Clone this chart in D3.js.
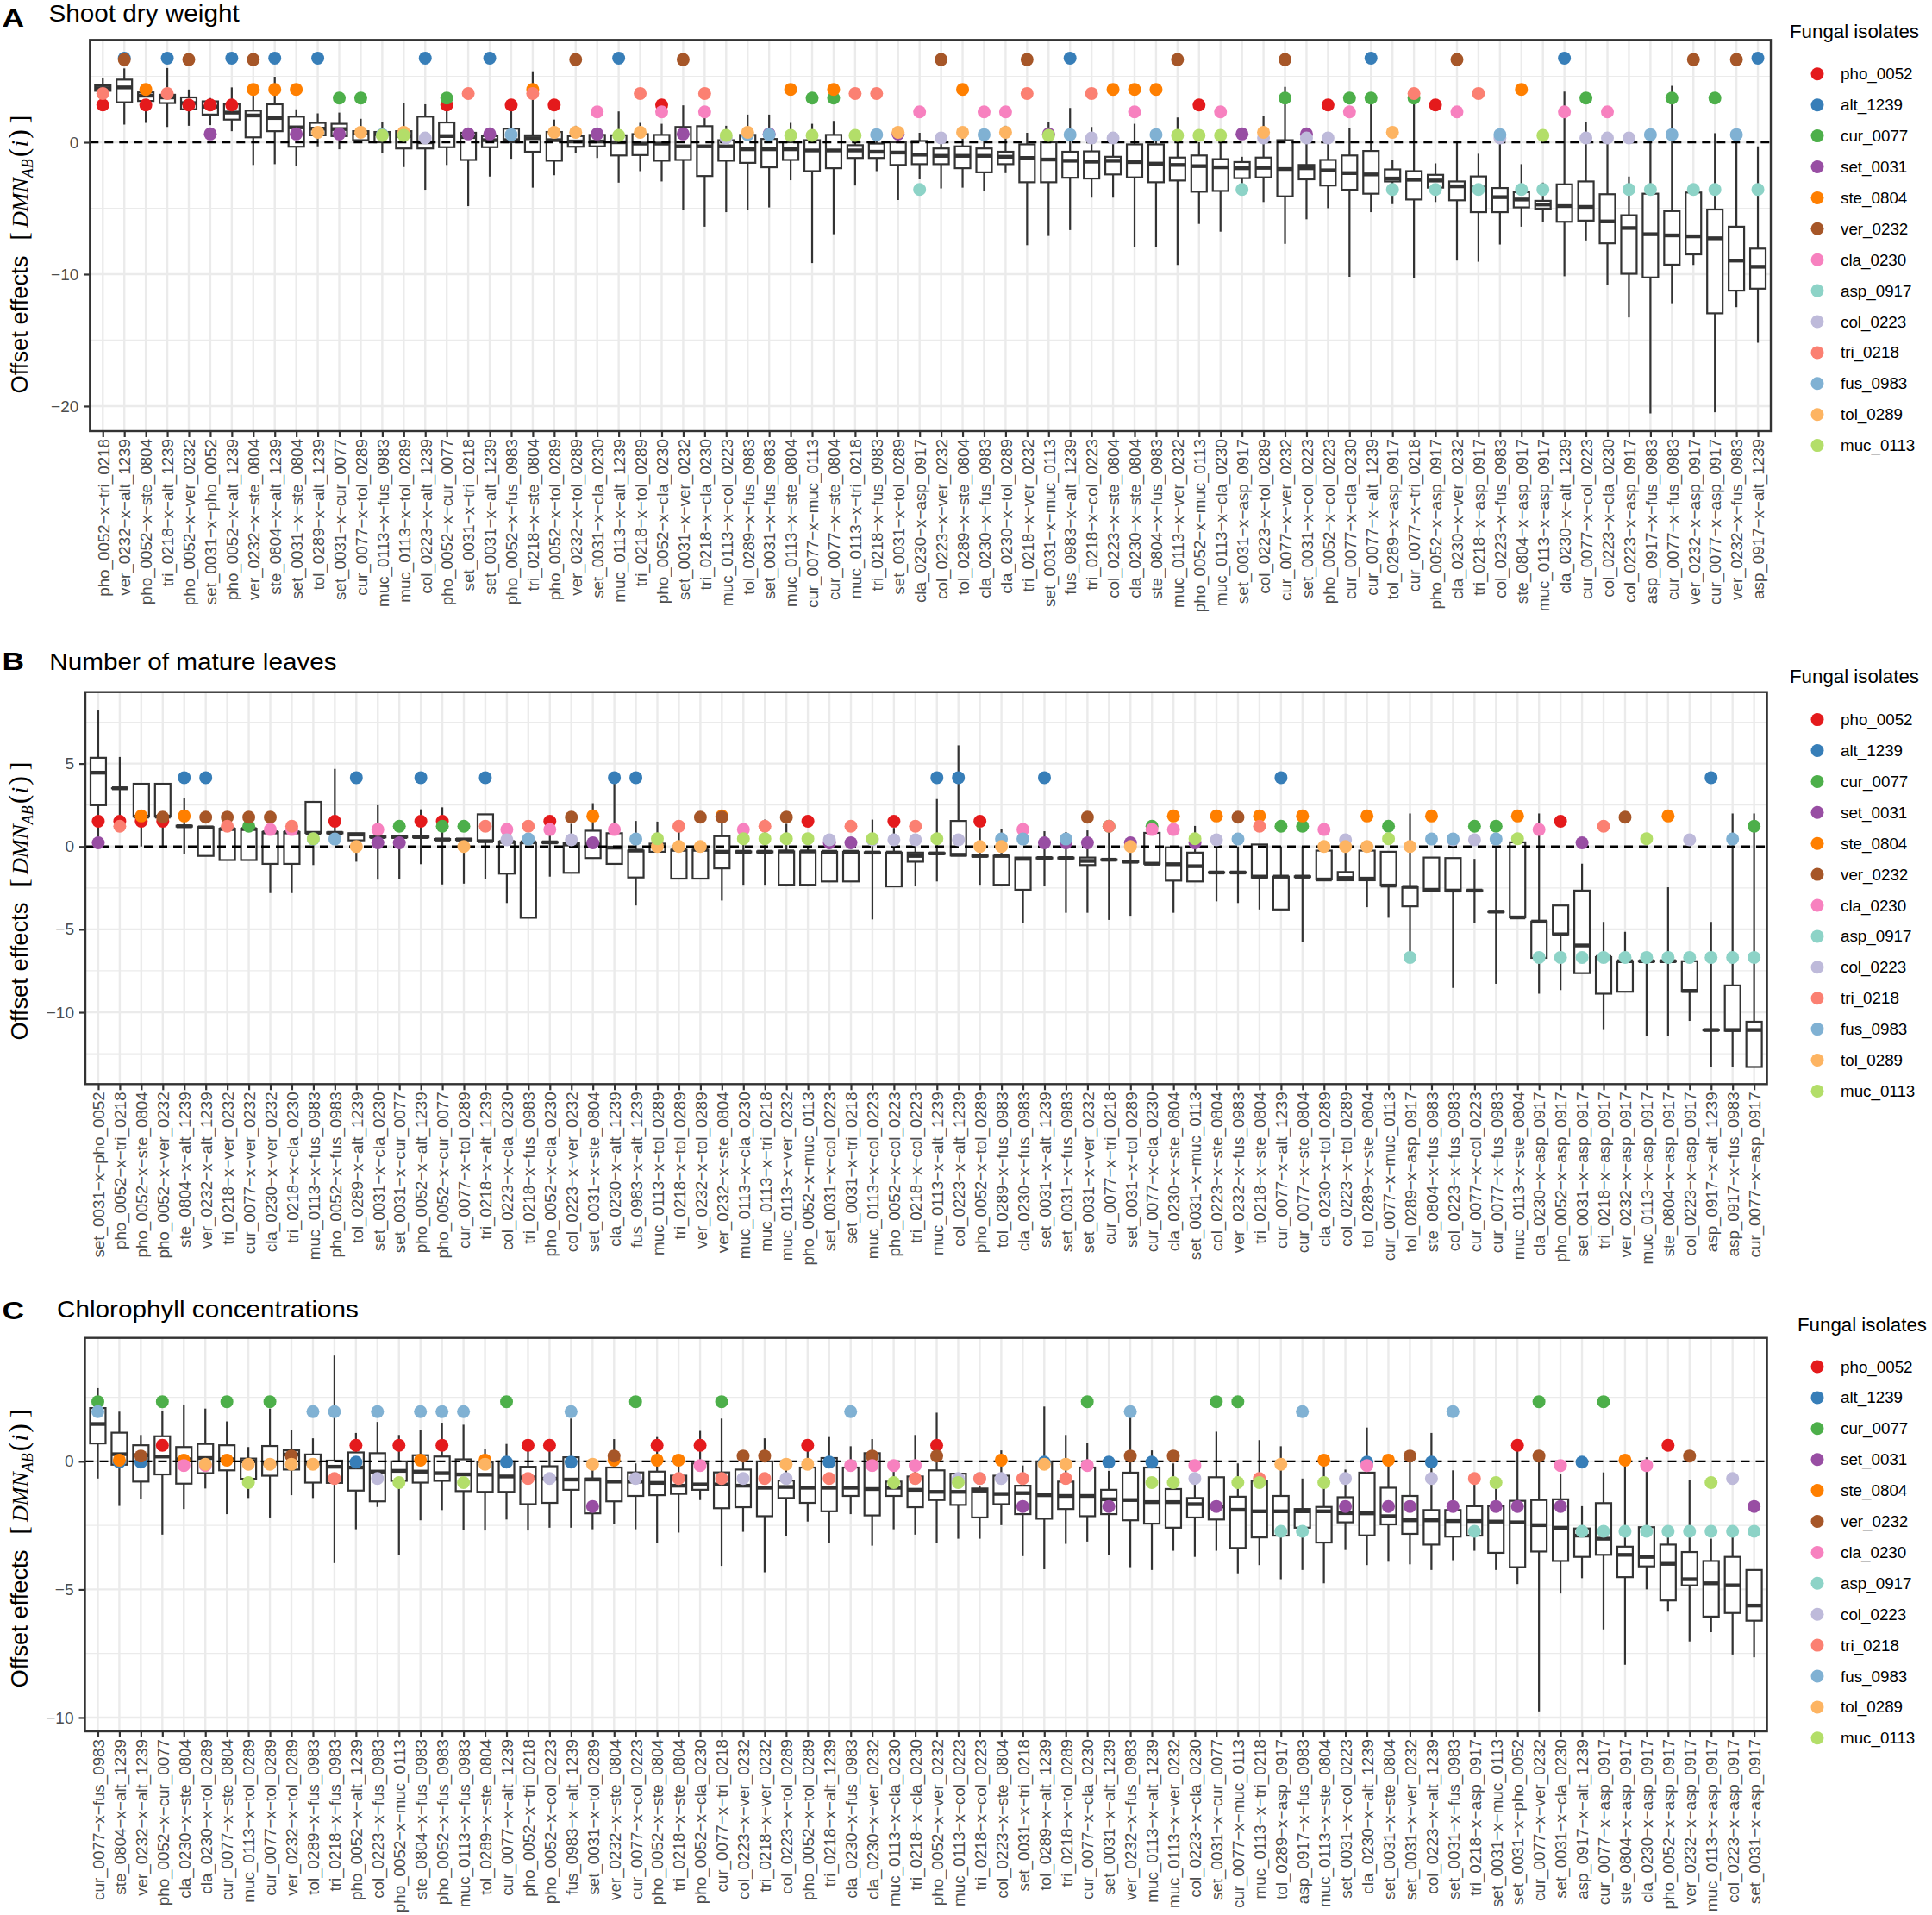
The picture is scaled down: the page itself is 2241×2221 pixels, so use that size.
<!DOCTYPE html>
<html><head><meta charset="utf-8">
<script src="https://cdn.jsdelivr.net/npm/d3@7"></script>
<style>body{margin:0;background:#fff}</style>
</head><body><svg id="chart" width="2241" height="2221"></svg>
<script>
// ---------- isolates ----------
const isolates = ["pho_0052","alt_1239","cur_0077","set_0031","ste_0804","ver_0232","cla_0230","asp_0917","col_0223","tri_0218","fus_0983","tol_0289","muc_0113"];
const isolateColors = ["#E41A1C","#377EB8","#4DAF4A","#984EA3","#FF7F00","#A65628","#F781BF","#8DD3C7","#BEBADA","#FB8072","#80B1D3","#FDB462","#B3DE69"];
// individual isolate effect (dot level) per panel, same order as isolates
const dotsA = [2.83,6.37,3.35,0.63,4.0,6.27,2.3,-3.58,0.33,3.7,0.58,0.76,0.52];
const dotsB = [1.52,4.15,1.22,0.22,1.84,1.77,1.02,-6.69,0.4,1.22,0.45,0.0,0.47];
const dotsC = [0.63,-0.03,2.33,-1.76,0.05,0.21,-0.16,-2.73,-0.67,-0.67,1.94,-0.11,-0.83];

// ---------- Panel A : Shoot dry weight ----------
const catsA = ["pho_0052-x-tri_0218","ver_0232-x-alt_1239","pho_0052-x-ste_0804","tri_0218-x-alt_1239","pho_0052-x-ver_0232","set_0031-x-pho_0052","pho_0052-x-alt_1239","ver_0232-x-ste_0804","ste_0804-x-alt_1239","set_0031-x-ste_0804","tol_0289-x-alt_1239","set_0031-x-cur_0077","cur_0077-x-tol_0289","muc_0113-x-fus_0983","muc_0113-x-tol_0289","col_0223-x-alt_1239","pho_0052-x-cur_0077","set_0031-x-tri_0218","set_0031-x-alt_1239","pho_0052-x-fus_0983","tri_0218-x-ste_0804","pho_0052-x-tol_0289","ver_0232-x-tol_0289","set_0031-x-cla_0230","muc_0113-x-alt_1239","tri_0218-x-tol_0289","pho_0052-x-cla_0230","set_0031-x-ver_0232","tri_0218-x-cla_0230","muc_0113-x-col_0223","tol_0289-x-fus_0983","set_0031-x-fus_0983","muc_0113-x-ste_0804","cur_0077-x-muc_0113","cur_0077-x-ste_0804","muc_0113-x-tri_0218","tri_0218-x-fus_0983","set_0031-x-tol_0289","cla_0230-x-asp_0917","col_0223-x-ver_0232","tol_0289-x-ste_0804","cla_0230-x-fus_0983","cla_0230-x-tol_0289","tri_0218-x-ver_0232","set_0031-x-muc_0113","fus_0983-x-alt_1239","tri_0218-x-col_0223","col_0223-x-ste_0804","cla_0230-x-ste_0804","ste_0804-x-fus_0983","muc_0113-x-ver_0232","pho_0052-x-muc_0113","muc_0113-x-cla_0230","set_0031-x-asp_0917","col_0223-x-tol_0289","cur_0077-x-ver_0232","set_0031-x-col_0223","pho_0052-x-col_0223","cur_0077-x-cla_0230","cur_0077-x-alt_1239","tol_0289-x-asp_0917","cur_0077-x-tri_0218","pho_0052-x-asp_0917","cla_0230-x-ver_0232","tri_0218-x-asp_0917","col_0223-x-fus_0983","ste_0804-x-asp_0917","muc_0113-x-asp_0917","cla_0230-x-alt_1239","cur_0077-x-col_0223","col_0223-x-cla_0230","col_0223-x-asp_0917","asp_0917-x-fus_0983","cur_0077-x-fus_0983","ver_0232-x-asp_0917","cur_0077-x-asp_0917","ver_0232-x-fus_0983","asp_0917-x-alt_1239"];
const upperA = [4.9,5.6,4.1,5.63,4.0,3.35,4.16,3.6,4.97,2.5,2.19,2.25,1.78,1.53,2.97,2.88,3.28,1.1,0.6,2.5,5.38,1.72,1.25,1.1,2.34,1.47,1.4,2.8,2.0,1.25,2.1,2.1,1.47,1.4,1.62,0.47,0.47,0.78,0.72,0.78,0.78,0.47,1.25,0.72,1.56,2.6,1.16,0.16,1.4,0.25,1.88,0.0,0.0,-1.1,1.97,4.2,0.62,0.62,1.1,3.1,-1.34,3.9,-1.6,0.0,-0.875,0.0,-1.66,-3.06,3.84,1.56,0.0,-2.6,0.0,4.28,-3.81,0.69,0.0,-0.31];
const q3A = [4.31,4.75,3.78,3.6,3.4,3.1,2.9,2.4,2.88,1.94,1.47,1.4,0.84,0.78,0.84,1.94,1.5,0.72,0.47,1.03,0.53,0.78,0.47,0.56,0.53,0.62,0.56,1.16,1.22,0.16,0.56,0.25,0.0,0.16,0.56,-0.22,-0.1,0.0,0.1,-0.47,-0.31,-0.47,-0.72,-0.16,0.0,-0.72,-0.69,-1.1,-0.16,-0.16,-1.16,-1.0,-1.28,-1.5,-1.16,0.16,-1.72,-1.34,-1.0,-0.66,-2.06,-2.19,-2.47,-2.97,-2.59,-3.47,-3.78,-4.44,-3.19,-2.97,-3.94,-5.53,-3.9,-5.22,-3.81,-5.1,-6.4,-8.06];
const medA = [4.1,4.16,3.53,3.4,2.97,2.7,2.25,2.03,1.84,1.13,1.03,1.0,0.72,0.62,0.47,0.0,0.47,0.4,0.16,0.16,0.31,0.16,0.06,0.06,0.0,-0.1,-0.1,-0.31,-0.31,-0.31,-0.53,-0.53,-0.53,-0.62,-0.62,-0.62,-0.72,-0.78,-0.94,-1.03,-1.03,-1.03,-1.1,-1.19,-1.31,-1.4,-1.47,-1.4,-1.5,-1.62,-1.72,-1.81,-1.9,-1.97,-1.94,-2.03,-1.97,-2.13,-2.34,-2.44,-2.75,-2.84,-2.9,-3.34,-3.44,-4.16,-4.34,-4.72,-4.84,-4.9,-6.0,-6.5,-6.97,-7.06,-7.13,-7.28,-8.97,-9.44];
const q1A = [3.9,3.03,3.13,2.97,2.5,2.1,1.72,0.375,0.84,-0.34,0.53,0.47,0.16,0.0,-0.47,-0.47,-0.375,-1.34,-0.375,0.0,-0.72,-1.4,-0.34,-0.31,-1.0,-0.97,-1.4,-1.34,-2.56,-1.4,-1.56,-1.9,-1.34,-2.19,-1.97,-1.19,-1.19,-1.72,-1.66,-1.66,-1.97,-2.28,-1.66,-3.03,-3.03,-2.69,-2.75,-2.44,-2.66,-3.03,-2.9,-3.75,-3.69,-2.72,-2.66,-4.1,-2.81,-3.28,-3.6,-3.9,-2.97,-4.34,-3.44,-4.4,-5.3,-5.3,-4.94,-5.03,-6.03,-5.94,-7.66,-9.97,-10.25,-9.28,-8.5,-12.97,-11.25,-11.1];
const lowerA = [3.85,1.34,1.47,1.16,1.25,1.3,0.84,-1.72,-1.66,-1.78,-0.31,-0.53,0.0,-0.84,-1.88,-3.6,-1.72,-4.84,-2.6,-1.25,-3.44,-2.5,-0.84,-1.19,-3.06,-2.19,-2.97,-5.16,-6.4,-5.3,-5.16,-4.94,-2.88,-9.16,-6.97,-3.28,-2.19,-4.38,-2.81,-3.5,-3.44,-3.66,-2.34,-7.8,-7.1,-6.66,-4.2,-4.2,-7.97,-7.97,-9.3,-6.19,-6.78,-3.13,-4.53,-7.7,-5.84,-5.0,-10.2,-5.3,-4.69,-10.3,-4.53,-8.97,-9.06,-7.75,-6.4,-6.03,-10.16,-7.44,-10.84,-13.28,-20.56,-12.2,-9.3,-20.47,-12.5,-15.2];
const ticksA = [0,-10,-20];

// ---------- Panel B : Number of mature leaves ----------
const catsB = ["set_0031-x-pho_0052","pho_0052-x-tri_0218","pho_0052-x-ste_0804","pho_0052-x-ver_0232","ste_0804-x-alt_1239","ver_0232-x-alt_1239","tri_0218-x-ver_0232","cur_0077-x-ver_0232","cla_0230-x-ver_0232","tri_0218-x-cla_0230","muc_0113-x-fus_0983","pho_0052-x-fus_0983","tol_0289-x-alt_1239","set_0031-x-cla_0230","set_0031-x-cur_0077","pho_0052-x-alt_1239","pho_0052-x-cur_0077","cur_0077-x-tol_0289","tri_0218-x-alt_1239","col_0223-x-cla_0230","tri_0218-x-fus_0983","pho_0052-x-cla_0230","col_0223-x-ver_0232","set_0031-x-ste_0804","cla_0230-x-alt_1239","fus_0983-x-alt_1239","muc_0113-x-tol_0289","tri_0218-x-tol_0289","ver_0232-x-tol_0289","ver_0232-x-ste_0804","muc_0113-x-cla_0230","muc_0113-x-tri_0218","muc_0113-x-ver_0232","pho_0052-x-muc_0113","set_0031-x-col_0223","set_0031-x-tri_0218","muc_0113-x-col_0223","pho_0052-x-col_0223","tri_0218-x-col_0223","muc_0113-x-alt_1239","col_0223-x-alt_1239","pho_0052-x-tol_0289","tol_0289-x-fus_0983","cla_0230-x-fus_0983","set_0031-x-alt_1239","set_0031-x-fus_0983","set_0031-x-ver_0232","cur_0077-x-tri_0218","set_0031-x-tol_0289","cur_0077-x-cla_0230","cla_0230-x-ste_0804","set_0031-x-muc_0113","col_0223-x-ste_0804","ver_0232-x-fus_0983","tri_0218-x-ste_0804","cur_0077-x-alt_1239","cur_0077-x-ste_0804","cla_0230-x-tol_0289","col_0223-x-tol_0289","tol_0289-x-ste_0804","cur_0077-x-muc_0113","tol_0289-x-asp_0917","ste_0804-x-fus_0983","col_0223-x-fus_0983","cur_0077-x-col_0223","cur_0077-x-fus_0983","muc_0113-x-ste_0804","cla_0230-x-asp_0917","pho_0052-x-asp_0917","set_0031-x-asp_0917","tri_0218-x-asp_0917","ver_0232-x-asp_0917","muc_0113-x-asp_0917","ste_0804-x-asp_0917","col_0223-x-asp_0917","asp_0917-x-alt_1239","asp_0917-x-fus_0983","cur_0077-x-asp_0917"];
const upperB = [8.2,5.4,3.78,3.78,2.95,1.17,1.07,1.07,0.87,0.87,2.69,4.68,0.8,2.49,0.6,2.24,2.36,0.45,1.94,0.3,0.25,1.12,1.37,2.61,4.15,1.54,1.5,1.12,0.0,1.87,0.37,1.62,1.37,0.0,-0.32,-0.32,1.62,1.12,0.67,2.86,6.1,1.12,1.07,-0.67,0.92,0.87,0.97,0.87,0.0,0.82,-0.05,1.24,0.0,0.0,0.12,0.0,0.0,-0.25,0.0,0.0,-0.32,1.99,-0.67,-0.7,-0.75,0.0,0.25,1.99,-3.56,-1.04,-4.55,-5.15,-6.9,-2.46,-6.92,-4.55,1.99,1.99];
const q3B = [5.35,3.51,3.78,3.78,1.25,1.17,1.07,1.07,0.87,0.87,2.69,0.85,0.8,0.6,0.6,0.6,0.45,0.45,1.94,0.3,0.25,0.27,0.2,0.95,0.8,-0.25,0.17,-0.2,-0.2,0.62,-0.3,-0.3,-0.3,-0.3,-0.32,-0.32,-0.35,-0.37,-0.37,-0.4,1.54,-0.55,-0.57,-0.67,-0.68,-0.68,-0.67,-0.78,-0.9,0.82,-0.05,-0.37,-1.55,-1.55,0.12,-1.82,-1.8,-0.25,-1.54,-0.25,-0.32,-2.44,-0.67,-0.7,-2.64,-3.91,0.25,-4.53,-3.56,-2.66,-6.67,-6.92,-6.9,-6.9,-6.92,-11.05,-8.38,-10.57];
const medB = [4.45,3.51,1.8,1.8,1.22,1.15,1.05,1.05,0.85,0.85,0.82,0.82,0.72,0.57,0.57,0.57,0.42,0.42,0.32,0.27,0.25,0.25,0.12,0.12,-0.07,-0.25,0.0,-0.2,-0.2,-0.32,-0.32,-0.32,-0.3,-0.3,-0.32,-0.32,-0.37,-0.37,-0.57,-0.42,-0.5,-0.57,-0.57,-0.75,-0.7,-0.7,-0.87,-0.8,-0.92,-1.04,-1.07,-1.19,-1.57,-1.57,-1.82,-1.82,-1.82,-1.99,-1.9,-1.94,-2.36,-2.44,-2.61,-2.66,-2.66,-3.93,-4.28,-4.53,-5.3,-5.97,-6.67,-6.92,-6.92,-6.92,-8.71,-11.07,-11.07,-11.07];
const q1B = [2.49,3.51,1.8,1.8,1.2,-0.57,-0.82,-0.82,-1.05,-1.05,0.82,0.8,0.37,0.55,0.55,0.55,0.4,0.4,0.32,-1.64,-4.3,0.23,-1.59,-0.7,-1.05,-1.87,-0.32,-1.94,-1.94,-1.32,-0.35,-0.35,-2.31,-2.31,-2.11,-2.11,-0.4,-2.41,-0.92,-0.45,-0.55,-0.6,-2.31,-2.61,-0.72,-0.72,-1.12,-0.82,-0.94,-1.04,-2.06,-2.11,-1.59,-1.59,-1.87,-3.8,-1.84,-1.99,-2.04,-2.04,-2.36,-3.61,-2.66,-2.66,-2.68,-3.95,-4.28,-6.72,-5.3,-7.64,-8.88,-8.76,-6.94,-6.94,-8.76,-11.09,-11.12,-13.3];
const lowerB = [0.22,1.5,0.0,0.0,-0.47,-0.57,-0.82,-0.82,-2.81,-2.81,-1.12,0.8,-0.92,-2.0,-1.99,-1.07,-2.29,-2.24,-1.99,-3.41,-4.3,-1.82,-1.59,-0.7,-1.05,-3.56,-0.32,-1.94,-1.94,-3.26,-2.31,-2.31,-2.31,-2.31,-2.11,-2.11,-4.4,-2.41,-2.36,-2.11,-0.55,-2.31,-2.31,-4.6,-2.36,-4.0,-4.0,-4.43,-4.18,-1.04,-4.0,-2.11,-3.31,-3.41,-3.8,-3.8,-5.77,-1.99,-2.04,-3.66,-4.3,-6.69,-2.66,-8.53,-4.6,-8.28,-4.28,-8.88,-8.66,-7.64,-11.07,-8.76,-11.44,-11.44,-10.52,-13.3,-13.3,-13.3];
const ticksB = [5,0,-5,-10];

// ---------- Panel C : Chlorophyll concentrations ----------
const catsC = ["cur_0077-x-fus_0983","ste_0804-x-alt_1239","ver_0232-x-alt_1239","pho_0052-x-cur_0077","cla_0230-x-ste_0804","cla_0230-x-tol_0289","cur_0077-x-ste_0804","muc_0113-x-tol_0289","cur_0077-x-tol_0289","ver_0232-x-tol_0289","tol_0289-x-fus_0983","tri_0218-x-fus_0983","pho_0052-x-alt_1239","col_0223-x-fus_0983","pho_0052-x-muc_0113","ste_0804-x-fus_0983","pho_0052-x-fus_0983","muc_0113-x-fus_0983","tol_0289-x-ste_0804","cur_0077-x-alt_1239","pho_0052-x-tri_0218","pho_0052-x-col_0223","fus_0983-x-alt_1239","set_0031-x-tol_0289","ver_0232-x-ste_0804","cur_0077-x-col_0223","pho_0052-x-ste_0804","tri_0218-x-ste_0804","pho_0052-x-cla_0230","cur_0077-x-tri_0218","col_0223-x-ver_0232","tri_0218-x-ver_0232","col_0223-x-tol_0289","pho_0052-x-tol_0289","tri_0218-x-alt_1239","cla_0230-x-fus_0983","cla_0230-x-ver_0232","muc_0113-x-cla_0230","tri_0218-x-cla_0230","pho_0052-x-ver_0232","muc_0113-x-col_0223","tri_0218-x-col_0223","col_0223-x-ste_0804","set_0031-x-tri_0218","tol_0289-x-alt_1239","tri_0218-x-tol_0289","cur_0077-x-cla_0230","set_0031-x-alt_1239","ver_0232-x-fus_0983","muc_0113-x-alt_1239","muc_0113-x-ver_0232","col_0223-x-cla_0230","set_0031-x-cur_0077","cur_0077-x-muc_0113","muc_0113-x-tri_0218","tol_0289-x-asp_0917","asp_0917-x-fus_0983","muc_0113-x-ste_0804","set_0031-x-col_0223","cla_0230-x-alt_1239","set_0031-x-ste_0804","set_0031-x-ver_0232","col_0223-x-alt_1239","set_0031-x-fus_0983","tri_0218-x-asp_0917","set_0031-x-muc_0113","set_0031-x-pho_0052","cur_0077-x-ver_0232","set_0031-x-cla_0230","asp_0917-x-alt_1239","cur_0077-x-asp_0917","ste_0804-x-asp_0917","cla_0230-x-asp_0917","pho_0052-x-asp_0917","ver_0232-x-asp_0917","muc_0113-x-asp_0917","col_0223-x-asp_0917","set_0031-x-asp_0917"];
const upperC = [2.86,1.94,1.03,1.98,2.22,2.06,1.56,0.56,2.06,1.22,0.9,4.13,1.11,1.54,1.03,1.22,1.51,1.43,0.48,0.68,0.56,0.4,1.67,-0.24,0.87,-0.08,0.95,0.08,1.19,1.67,0.16,0.9,-0.24,0.63,0.95,0.59,0.87,-0.37,1.03,1.9,-0.48,-0.95,0.43,-0.16,2.14,1.03,0.71,-0.37,1.75,0.43,-0.08,-0.56,1.16,-0.08,0.83,0.59,-0.67,0.05,-0.32,1.32,0.0,0.0,1.11,-0.35,-0.67,-0.87,0.63,0.21,-0.51,-1.75,-0.43,0.05,0.16,-2.94,-0.71,-3.02,-2.94,-4.24];
const q3C = [2.08,1.12,0.63,0.98,0.56,0.68,0.63,0.11,0.6,0.43,0.27,0.03,0.35,0.32,0.0,0.24,0.19,0.08,-0.03,0.0,-0.21,-0.19,0.16,-0.67,-0.24,-0.43,-0.4,-0.56,-0.08,-0.43,-0.32,0.0,-0.75,-0.24,0.13,-0.24,0.32,-0.79,-0.59,-0.35,-0.48,-1.06,-0.56,-0.95,0.0,-0.79,-0.24,-1.11,-0.44,-0.24,-1.08,-1.43,-0.62,-1.38,-0.76,-1.35,-1.86,-1.78,-1.4,-0.44,-1.03,-1.35,-1.9,-1.9,-1.75,-1.75,-1.54,-1.51,-1.48,-2.62,-1.63,-3.33,-2.57,-3.25,-3.54,-3.89,-3.73,-4.24];
const medC = [1.46,0.28,0.24,0.19,0.08,0.13,0.08,0.0,-0.08,0.27,-0.08,-0.21,-0.24,-0.4,-0.37,-0.4,-0.46,-0.51,-0.52,-0.59,-0.63,-0.68,-0.71,-0.71,-0.79,-0.79,-0.84,-0.95,-0.9,-0.9,-0.95,-1.03,-1.0,-1.03,-1.03,-1.03,-1.08,-1.03,-1.11,-1.19,-1.19,-1.14,-1.27,-1.24,-1.32,-1.35,-1.35,-1.48,-1.51,-1.59,-1.59,-1.67,-1.76,-1.89,-1.95,-1.95,-1.95,-1.95,-2.02,-2.03,-2.14,-2.3,-2.3,-2.33,-2.33,-2.35,-2.38,-2.49,-2.59,-2.9,-3.02,-3.65,-3.73,-4.0,-4.6,-4.76,-4.84,-5.63];
const q1C = [0.7,-0.13,-0.79,-0.51,-0.87,-0.46,-0.35,-0.68,-0.56,-0.32,-0.83,-0.84,-1.14,-1.56,-0.76,-0.83,-0.76,-1.16,-1.19,-1.19,-1.67,-1.62,-1.11,-2.03,-1.56,-1.35,-1.32,-1.27,-1.11,-1.83,-1.79,-2.14,-1.43,-1.62,-1.95,-1.35,-2.11,-1.35,-1.79,-1.51,-1.7,-2.19,-1.67,-2.06,-2.24,-1.86,-2.14,-2.06,-2.3,-2.43,-2.59,-2.19,-2.27,-3.38,-2.97,-2.9,-2.59,-3.17,-2.38,-2.89,-2.46,-2.83,-3.25,-2.94,-2.9,-3.57,-4.13,-3.52,-3.89,-3.73,-3.65,-4.52,-4.1,-5.43,-4.84,-6.06,-5.92,-6.22];
const lowerC = [-0.67,-1.74,-1.46,-2.86,-1.86,-1.06,-2.06,-1.43,-2.19,-1.32,-1.43,-3.97,-2.65,-1.78,-3.65,-2.3,-1.9,-2.67,-2.7,-2.27,-2.7,-2.59,-2.59,-2.65,-2.46,-2.65,-3.17,-2.78,-1.51,-4.08,-2.75,-4.33,-2.9,-2.35,-3.17,-2.06,-3.29,-2.65,-2.86,-3.17,-3.02,-3.02,-2.49,-3.7,-4.21,-3.22,-3.13,-3.65,-4.13,-4.24,-3.49,-3.73,-3.49,-4.37,-4.05,-4.6,-4.24,-4.76,-3.46,-4.05,-3.92,-4.02,-4.24,-3.86,-3.49,-4.24,-4.79,-9.76,-5.16,-4.56,-6.56,-7.94,-5.0,-5.87,-7.03,-6.67,-7.54,-7.65];
const ticksC = [0,-5,-10];

// ---------- layout (positions / styling only) ----------
const panels = [
  {tag:"A", title:"Shoot dry weight", cats:catsA, up:upperA, q3:q3A, med:medA, q1:q1A, lo:lowerA, dots:dotsA, ticks:ticksA,
   L:104.3, R:2054, T:46.3, B:500, dom:[-21.9,7.76], minor:[5,-5,-15], tagY:30.5, titleX:56.5, titleY:25,
   legX:2076, legTitleY:43.5, legY0:85.8, axisCy:295},
  {tag:"B", title:"Number of mature leaves", cats:catsB, up:upperB, q3:q3B, med:medB, q1:q1B, lo:lowerB, dots:dotsB, ticks:ticksB,
   L:99, R:2049.6, T:802.7, B:1257.3, dom:[-14.33,9.31], minor:[7.5,2.5,-2.5,-7.5,-12.5], tagY:777, titleX:57.3, titleY:776.7,
   legX:2076, legTitleY:792, legY0:834.6, axisCy:1045},
  {tag:"C", title:"Chlorophyll concentrations", cats:catsC, up:upperC, q3:q3C, med:medC, q1:q1C, lo:lowerC, dots:dotsC, ticks:ticksC,
   L:98.5, R:2049.6, T:1551.7, B:2008, dom:[-10.54,4.82], minor:[2.5,-2.5,-7.5], tagY:1530, titleX:66, titleY:1528,
   legX:2085, legTitleY:1544, legY0:1585, axisCy:1796}
];

const svg = d3.select("#chart");
svg.append("rect").attr("width",2241).attr("height",2221).attr("fill","#fff");
const SANS = "'Liberation Sans', Arial, Helvetica, sans-serif";
const SERIF = "'Liberation Serif', 'Times New Roman', serif";
const DARK = "#333333";

panels.forEach(p => {
  const g = svg.append("g");
  const x = d3.scalePoint().domain(p.cats).range([p.L, p.R]).padding(0.6);
  const y = d3.scaleLinear().domain(p.dom).range([p.B, p.T]);
  const bw = x.step() * 0.72;

  // grid
  const grid = g.append("g");
  p.minor.forEach(v => grid.append("line").attr("x1",p.L).attr("x2",p.R).attr("y1",y(v)).attr("y2",y(v))
      .attr("stroke","#EBEBEB").attr("stroke-width",1.2));
  p.ticks.forEach(v => grid.append("line").attr("x1",p.L).attr("x2",p.R).attr("y1",y(v)).attr("y2",y(v))
      .attr("stroke","#EBEBEB").attr("stroke-width",2.4));
  p.cats.forEach(c => grid.append("line").attr("x1",x(c)).attr("x2",x(c)).attr("y1",p.T).attr("y2",p.B)
      .attr("stroke","#EBEBEB").attr("stroke-width",2.4));

  // boxplots
  const boxes = g.append("g").selectAll("g").data(p.cats).join("g");
  boxes.append("line").attr("x1",c=>x(c)).attr("x2",c=>x(c))
    .attr("y1",(c,i)=>y(p.up[i])).attr("y2",(c,i)=>y(p.q3[i])).attr("stroke",DARK).attr("stroke-width",2.2);
  boxes.append("line").attr("x1",c=>x(c)).attr("x2",c=>x(c))
    .attr("y1",(c,i)=>y(p.q1[i])).attr("y2",(c,i)=>y(p.lo[i])).attr("stroke",DARK).attr("stroke-width",2.2);
  boxes.append("rect").attr("x",c=>x(c)-bw/2).attr("width",bw)
    .attr("y",(c,i)=>y(p.q3[i])).attr("height",(c,i)=>Math.max(0.01,y(p.q1[i])-y(p.q3[i])))
    .attr("fill","#fff").attr("stroke",DARK).attr("stroke-width",2.2);
  boxes.append("line").attr("x1",c=>x(c)-bw/2).attr("x2",c=>x(c)+bw/2)
    .attr("y1",(c,i)=>y(p.med[i])).attr("y2",(c,i)=>y(p.med[i])).attr("stroke",DARK).attr("stroke-width",4.4);

  // zero line
  g.append("line").attr("x1",p.L).attr("x2",p.R).attr("y1",y(0)).attr("y2",y(0))
    .attr("stroke","#000").attr("stroke-width",2.4).attr("stroke-dasharray","10,7");

  // isolate dots
  const dotData = [];
  p.cats.forEach(c => {
    c.split("-x-").forEach(name => dotData.push({c, k: isolates.indexOf(name)}));
  });
  dotData.sort((a,b)=>a.k-b.k);
  g.append("g").selectAll("circle").data(dotData).join("circle")
    .attr("cx",d=>x(d.c)).attr("cy",d=>y(p.dots[d.k])).attr("r",7.5)
    .attr("fill",d=>isolateColors[d.k]);

  // border
  g.append("rect").attr("x",p.L).attr("y",p.T).attr("width",p.R-p.L).attr("height",p.B-p.T)
    .attr("fill","none").attr("stroke",DARK).attr("stroke-width",2.4);

  // y axis
  const ya = g.append("g").attr("transform",`translate(${p.L},0)`)
    .call(d3.axisLeft(y).tickValues(p.ticks).tickSize(7).tickPadding(6).tickFormat(d3.format("d")));
  ya.select(".domain").remove();
  ya.selectAll(".tick line").attr("stroke",DARK).attr("stroke-width",2.2);
  ya.selectAll(".tick text").attr("fill","#4D4D4D").style("font-family",SANS).style("font-size","19px");

  // x axis
  const xa = g.append("g").attr("transform",`translate(0,${p.B})`)
    .call(d3.axisBottom(x).tickSize(7).tickFormat(c=>c.replace(/-/g,"\u2212")));
  xa.select(".domain").remove();
  xa.selectAll(".tick line").attr("stroke",DARK).attr("stroke-width",2.2);
  xa.selectAll(".tick text").attr("fill","#4D4D4D").style("font-family",SANS).style("font-size","18.8px")
    .attr("y",0).attr("x",-9).attr("dy","0.36em").attr("transform","rotate(-90)").style("text-anchor","end");

  // y axis title
  const at = g.append("text").attr("transform",`translate(31.5,${p.axisCy}) rotate(-90)`)
    .attr("text-anchor","middle").attr("fill","#000").style("font-family",SANS).style("font-size","27.3px");
  at.append("tspan").text("Offset effects");
  at.append("tspan").attr("dx",18).style("font-family",SERIF).style("font-size","29px").text("[");
  at.append("tspan").attr("dx",5).style("font-family",SERIF).style("font-style","italic").style("font-size","26px").text("DMN");
  at.append("tspan").style("font-family",SERIF).style("font-style","italic").style("font-size","18px").attr("dy",6).text("AB");
  at.append("tspan").attr("dx",2).attr("dy",-6).style("font-family",SERIF).style("font-size","32px").text("(");
  at.append("tspan").attr("dx",1).style("font-family",SERIF).style("font-style","italic").style("font-size","28px").text("i");
  at.append("tspan").attr("dx",2).style("font-family",SERIF).style("font-size","32px").text(")");
  at.append("tspan").attr("dx",7).style("font-family",SERIF).style("font-size","29px").text("]");

  // tag + title (slightly wide glyphs as in reference)
  g.append("text").attr("transform",`translate(2.5,${p.tagY}) scale(1.18,1)`).text(p.tag)
    .style("font-family",SANS).style("font-weight","bold").style("font-size","30px").attr("fill","#000");
  g.append("text").attr("transform",`translate(${p.titleX},${p.titleY}) scale(1.1,1)`).text(p.title)
    .style("font-family",SANS).style("font-size","27px").attr("fill","#000");

  // legend
  const lg = g.append("g");
  lg.append("text").attr("x",p.legX).attr("y",p.legTitleY).text("Fungal isolates")
    .style("font-family",SANS).style("font-size","22.3px").attr("fill","#000");
  const items = lg.selectAll("g.item").data(isolates).join("g").attr("class","item")
    .attr("transform",(d,i)=>`translate(2108,${p.legY0 + i*35.9})`);
  items.append("circle").attr("r",7.5).attr("fill",(d,i)=>isolateColors[i]);
  items.append("text").attr("x",27).attr("dy","0.35em").text(d=>d)
    .style("font-family",SANS).style("font-size","18.8px").attr("fill","#000");
});
</script>
</body></html>
